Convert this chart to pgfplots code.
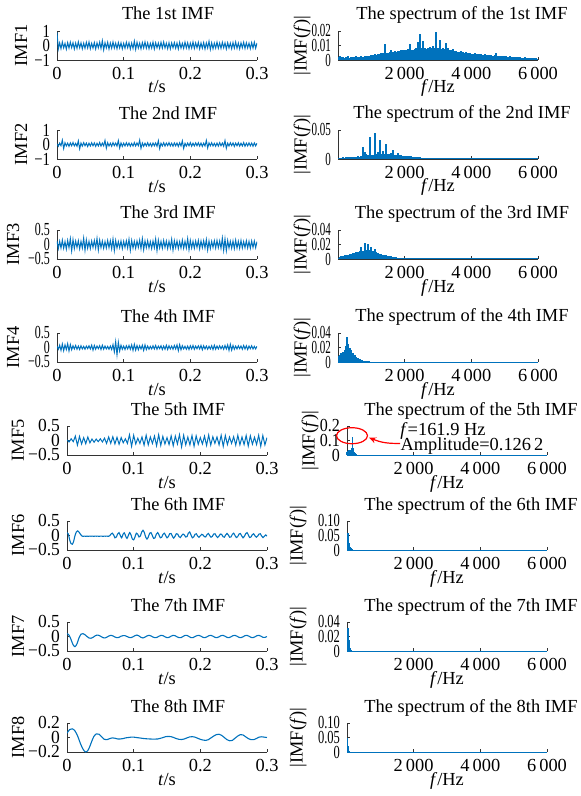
\documentclass[border=0pt]{standalone}
\usepackage{fontspec}
\setmainfont{Liberation Serif}
\usepackage{graphicx}
\usepackage{pgfplots}
\pgfplotsset{compat=1.18}
\usepackage{pgfplotstable}
\usetikzlibrary{arrows.meta}
\definecolor{mb}{RGB}{0,114,189}
\newcommand{\fs}{\fontsize{9.2}{10}\selectfont}
% y tick labels in the reference are squeezed sideways
\newcommand{\sq}[2]{\scalebox{#1}[1]{#2}}

\pgfplotsset{
  panel/.style={scale only axis, width=100pt, height=14.5pt, anchor=south west,
    axis x line*=bottom, axis y line*=left,
    axis line style={-, black!80, line width=0.4pt},
    tick align=inside, major tick length=1.6pt,
    every tick/.style={black!80, line width=0.4pt},
    scaled x ticks=false, scaled y ticks=false,
    tick label style={font=\fs}, label style={font=\fs},
    title style={font=\fs, at={(axis description cs:0.5,1)}, anchor=base, yshift=-0.5pt},
    xlabel style={at={(axis description cs:0.5,0)}, anchor=base, yshift=-16.5pt}},
  ylab/.style={ylabel style={at={(axis description cs:#1,0.5)}, anchor=center}},
  tpanel/.style={panel, xmin=0, xmax=0.3, xtick={0,0.1,0.2,0.3},
    xticklabels={0,0.1,0.2,0.3}, xlabel={\textit{t}/s},
    title style={xshift=5.5pt}},
  fpanel/.style={panel, xmin=0, xmax=6000, ymin=0, xtick={2000,4000,6000},
    xticklabels={2\,000,4\,000,6\,000}, xlabel={\textit{f}/Hz},
    ylabel={|IMF(\textit{f})|}, title style={xshift=12pt}},
  sig/.style={mb, line width=0.5pt},
  sigs/.style={mb, line width=0.55pt, smooth},
  spec/.style={mb, ycomb, line width=0.85pt},
}

% samples evenly spread over [0,span]
\newcommand{\plotsampled}[3]{%
  \pgfplotstablegetrowsof{#2}%
  \pgfmathsetmacro{\nlast}{\pgfplotsretval-1}%
  \addplot[#1] table[x expr=\coordindex*#3/\nlast, y index=0]{#2};}

% ---------- time series ----------
\pgfplotstableread[header=false,row sep=\\]{
0.9\\ -0.24\\ 0.18\\ -0.22\\ 0.24\\ -0.17\\ 0.15\\ -0.26\\ 0.2\\ -0.18\\ 0.23\\ -0.15\\ 0.19\\ -0.24\\ 0.17\\ -0.2\\ 0.25\\ -0.16\\ 0.18\\ -0.23\\
0.16\\ -0.19\\ 0.22\\ -0.17\\ 0.24\\ -0.22\\ 0.15\\ -0.18\\ 0.2\\ -0.24\\ 0.18\\ -0.16\\ 0.23\\ -0.2\\ 0.33\\ -0.3\\ 0.19\\ -0.17\\ 0.22\\ -0.24\\
0.17\\ -0.19\\ 0.24\\ -0.18\\ 0.16\\ -0.22\\ 0.2\\ -0.17\\ 0.18\\ -0.23\\ 0.15\\ -0.19\\ 0.22\\ -0.16\\ 0.19\\ -0.24\\ 0.17\\ -0.2\\ 0.3\\ -0.27\\
0.22\\ -0.18\\ 0.16\\ -0.23\\ 0.2\\ -0.17\\ 0.24\\ -0.19\\ 0.18\\ -0.22\\ 0.15\\ -0.18\\ 0.23\\ -0.24\\ 0.19\\ -0.16\\ 0.17\\ -0.2\\ 0.22\\ -0.18\\
0.24\\ -0.17\\ 0.16\\ -0.22\\ 0.19\\ -0.23\\ 0.18\\ -0.16\\ 0.2\\ -0.19\\ 0.17\\ -0.24\\ 0.22\\ -0.18\\ 0.15\\ -0.2\\ 0.23\\ -0.17\\ 0.19\\ -0.22\\
0.16\\ -0.18\\ 0.24\\ -0.2\\ 0.18\\ -0.16\\ 0.22\\ -0.23\\ 0.17\\ -0.19\\ 0.2\\ -0.24\\ 0.18\\ -0.17\\ 0.29\\ -0.27\\ 0.19\\ -0.22\\ 0.16\\ -0.18\\
0.23\\ -0.19\\ 0.17\\ -0.2\\ 0.22\\ -0.16\\ 0.18\\ -0.24\\ 0.19\\ -0.17\\ 0.16\\ -0.22\\ 0.2\\ -0.18\\ 0.24\\ -0.19\\ 0.17\\ -0.23\\ 0.18\\ -0.16\\
0.22\\ -0.2\\ 0.19\\ -0.17\\ 0.16\\ -0.22\\ 0.2\\ -0.18\\ 0.23\\ -0.19\\ 0.17\\
}\imfA

\pgfplotstableread[header=false,row sep=\\]{
0.05\\ -0.12\\ 0.1\\ -0.08\\ 0.3\\ -0.28\\ 0.12\\ -0.1\\ 0.09\\ -0.13\\ 0.11\\ -0.09\\ 0.14\\ -0.1\\ 0.08\\ -0.12\\ 0.25\\ -0.3\\ 0.1\\ -0.11\\
0.13\\ -0.08\\ 0.1\\ -0.14\\ 0.09\\ -0.1\\ 0.12\\ -0.09\\ 0.11\\ -0.13\\ 0.08\\ -0.1\\ 0.14\\ -0.11\\ 0.1\\ -0.09\\ 0.28\\ -0.25\\ 0.12\\ -0.1\\
0.09\\ -0.12\\ 0.13\\ -0.08\\ 0.1\\ -0.11\\ 0.27\\ -0.24\\ 0.11\\ -0.13\\ 0.09\\ -0.1\\ 0.12\\ -0.09\\ 0.1\\ -0.12\\ 0.08\\ -0.11\\ 0.13\\ -0.1\\
0.11\\ -0.08\\ 0.3\\ -0.26\\ 0.1\\ -0.12\\ 0.09\\ -0.1\\ 0.12\\ -0.11\\ 0.08\\ -0.13\\ 0.1\\ -0.09\\ 0.11\\ -0.12\\ 0.26\\ -0.28\\ 0.09\\ -0.1\\
0.12\\ -0.11\\ 0.1\\ -0.08\\ 0.13\\ -0.1\\ 0.09\\ -0.12\\ 0.11\\ -0.09\\ 0.1\\ -0.13\\ 0.12\\ -0.1\\ 0.25\\ -0.27\\ 0.08\\ -0.11\\ 0.1\\ -0.09\\
0.13\\ -0.12\\ 0.09\\ -0.1\\ 0.11\\ -0.08\\ 0.12\\ -0.11\\ 0.1\\ -0.13\\ 0.09\\ -0.1\\ 0.28\\ -0.24\\ 0.11\\ -0.09\\ 0.12\\ -0.1\\ 0.08\\ -0.12\\
0.1\\ -0.11\\ 0.13\\ -0.09\\ 0.1\\ -0.12\\ 0.27\\ -0.26\\ 0.09\\ -0.1\\ 0.12\\ -0.08\\ 0.11\\ -0.13\\ 0.1\\ -0.09\\ 0.12\\ -0.11\\ 0.08\\ -0.1\\
0.13\\ -0.12\\ 0.09\\ -0.1\\ 0.11\\ -0.09\\ 0.1\\ -0.12\\ 0.11\\ -0.1\\ 0.09\\
}\imfB

\pgfplotstableread[header=false,row sep=\\]{
0.12\\ -0.14\\ 0.11\\ -0.12\\ 0.15\\ -0.13\\ 0.1\\ -0.16\\ 0.14\\ -0.11\\ 0.2\\ -0.22\\ 0.17\\ -0.14\\ 0.12\\ -0.1\\ 0.13\\ -0.15\\ 0.11\\ -0.12\\
0.22\\ -0.2\\ 0.16\\ -0.13\\ 0.11\\ -0.14\\ 0.12\\ -0.1\\ 0.14\\ -0.12\\ 0.21\\ -0.19\\ 0.15\\ -0.11\\ 0.12\\ -0.13\\ 0.1\\ -0.12\\ 0.14\\ -0.11\\
0.13\\ -0.15\\ 0.19\\ -0.21\\ 0.14\\ -0.12\\ 0.1\\ -0.11\\ 0.12\\ -0.14\\ 0.11\\ -0.1\\ 0.13\\ -0.12\\ 0.18\\ -0.2\\ 0.14\\ -0.12\\ 0.11\\ -0.13\\
0.12\\ -0.1\\ 0.15\\ -0.14\\ 0.2\\ -0.18\\ 0.12\\ -0.11\\ 0.13\\ -0.12\\ 0.1\\ -0.14\\ 0.12\\ -0.11\\ 0.19\\ -0.21\\ 0.15\\ -0.12\\ 0.11\\ -0.13\\
0.14\\ -0.1\\ 0.12\\ -0.14\\ 0.11\\ -0.12\\ 0.18\\ -0.19\\ 0.13\\ -0.11\\ 0.12\\ -0.14\\ 0.1\\ -0.12\\ 0.15\\ -0.13\\ 0.11\\ -0.12\\ 0.2\\ -0.18\\
0.14\\ -0.12\\ 0.11\\ -0.13\\ 0.12\\ -0.1\\ 0.14\\ -0.15\\ 0.12\\ -0.11\\ 0.13\\ -0.12\\ 0.17\\ -0.19\\ 0.12\\ -0.14\\ 0.11\\ -0.1\\ 0.13\\ -0.12\\
0.14\\ -0.11\\ 0.12\\ -0.13\\ 0.22\\ -0.2\\ 0.19\\ -0.21\\ 0.14\\ -0.12\\ 0.11\\ -0.13\\ 0.12\\ -0.14\\ 0.15\\ -0.12\\ 0.11\\ -0.13\\ 0.14\\ -0.12\\
0.1\\ -0.11\\ 0.13\\ -0.12\\ 0.11\\ -0.13\\ 0.12\\ -0.1\\ 0.12\\ -0.11\\ 0.1\\
}\imfC

\pgfplotstableread[header=false,row sep=\\]{
0.05\\ -0.06\\ 0.08\\ -0.1\\ 0.12\\ -0.11\\ 0.09\\ -0.07\\ 0.13\\ -0.12\\ 0.1\\ -0.08\\ 0.06\\ -0.05\\ 0.07\\ -0.06\\ 0.05\\ -0.07\\ 0.06\\ -0.05\\
0.04\\ -0.06\\ 0.05\\ -0.04\\ 0.06\\ -0.05\\ 0.08\\ -0.09\\ 0.07\\ -0.06\\ 0.05\\ -0.04\\ 0.06\\ -0.07\\ 0.08\\ -0.06\\ 0.05\\ -0.05\\ 0.04\\ -0.06\\
0.05\\ -0.07\\ 0.1\\ -0.15\\ 0.2\\ -0.25\\ 0.18\\ -0.12\\ 0.08\\ -0.06\\ 0.05\\ -0.07\\ 0.06\\ -0.05\\ 0.07\\ -0.06\\ 0.09\\ -0.1\\ 0.11\\ -0.09\\
0.07\\ -0.08\\ 0.06\\ -0.05\\ 0.08\\ -0.1\\ 0.09\\ -0.07\\ 0.05\\ -0.06\\ 0.04\\ -0.05\\ 0.06\\ -0.05\\ 0.07\\ -0.06\\ 0.05\\ -0.04\\ 0.06\\ -0.07\\
0.05\\ -0.06\\ 0.08\\ -0.07\\ 0.06\\ -0.05\\ 0.05\\ -0.06\\ 0.07\\ -0.05\\ 0.09\\ -0.11\\ 0.1\\ -0.08\\ 0.06\\ -0.05\\ 0.04\\ -0.06\\ 0.05\\ -0.07\\
0.06\\ -0.05\\ 0.07\\ -0.06\\ 0.05\\ -0.04\\ 0.06\\ -0.05\\ 0.07\\ -0.08\\ 0.06\\ -0.05\\ 0.05\\ -0.06\\ 0.04\\ -0.05\\ 0.06\\ -0.07\\ 0.08\\ -0.06\\
0.05\\ -0.05\\ 0.06\\ -0.04\\ 0.05\\ -0.06\\ 0.07\\ -0.05\\ 0.09\\ -0.1\\ 0.11\\ -0.09\\ 0.07\\ -0.06\\ 0.05\\ -0.05\\ 0.06\\ -0.04\\ 0.05\\ -0.06\\
0.07\\ -0.05\\ 0.06\\ -0.07\\ 0.05\\ -0.04\\ 0.06\\ -0.05\\ 0.04\\ -0.05\\ 0.04\\
}\imfD

\pgfplotstableread[header=false,row sep=\\]{
0.02\\ -0.05\\ 0.06\\ -0.04\\ 0.15\\ -0.16\\ 0.14\\ -0.12\\ 0.1\\ -0.11\\ 0.12\\ -0.08\\ 0.05\\ -0.06\\ 0.05\\ -0.04\\ 0.06\\ -0.05\\ 0.08\\ -0.1\\
0.12\\ -0.1\\ 0.13\\ -0.12\\ 0.11\\ -0.13\\ 0.1\\ -0.08\\ 0.06\\ -0.1\\ 0.2\\ -0.2\\ 0.18\\ -0.12\\ 0.08\\ -0.1\\ 0.12\\ -0.16\\ 0.18\\ -0.15\\
0.12\\ -0.1\\ 0.15\\ -0.18\\ 0.2\\ -0.17\\ 0.14\\ -0.12\\ 0.1\\ -0.14\\ 0.16\\ -0.18\\ 0.15\\ -0.12\\ 0.2\\ -0.22\\ 0.18\\ -0.15\\ 0.12\\ -0.15\\
0.17\\ -0.2\\ 0.16\\ -0.13\\ 0.1\\ -0.12\\ 0.15\\ -0.17\\ 0.19\\ -0.16\\ 0.13\\ -0.1\\ 0.12\\ -0.15\\ 0.18\\ -0.2\\ 0.17\\ -0.14\\ 0.12\\ -0.1\\
0.13\\ -0.16\\ 0.18\\ -0.15\\ 0.12\\ -0.14\\ 0.17\\ -0.19\\ 0.16\\ -0.13\\ 0.11\\ -0.14\\ 0.18\\ -0.2\\ 0.17\\ -0.15\\ 0.1\\
}\imfE

\pgfplotstableread[header=false,row sep=\\]{
0.1\\ 0.05\\ -0.15\\ -0.28\\ -0.3\\ -0.2\\ 0.0\\ 0.12\\ 0.16\\ 0.12\\ 0.05\\ -0.01\\ -0.03\\ -0.02\\
-0.03\\ -0.02\\ -0.03\\ -0.02\\ -0.025\\ -0.02\\ -0.03\\ -0.02\\ -0.025\\ -0.02\\ -0.03\\ -0.02\\ -0.02\\ -0.03\\ -0.02\\ -0.025\\ -0.02\\ -0.03\\ -0.01\\
0.05\\ 0.08\\ 0.02\\ -0.08\\ -0.05\\ 0.05\\ 0.1\\ 0.0\\ -0.08\\ 0.04\\ 0.09\\ -0.02\\ -0.1\\ 0.0\\ 0.1\\ 0.02\\ -0.12\\ -0.15\\ -0.05\\ 0.08\\
0.05\\ -0.05\\ -0.02\\ 0.12\\ 0.18\\ 0.1\\ -0.05\\ -0.12\\ -0.05\\ 0.08\\ 0.1\\ 0.0\\ -0.1\\ -0.08\\ 0.05\\ 0.1\\ 0.02\\
-0.08\\ -0.06\\ 0.04\\ 0.08\\ 0.0\\ -0.08\\ -0.04\\ 0.06\\ 0.07\\ -0.02\\ -0.09\\ -0.03\\ 0.06\\ 0.05\\ -0.04\\ -0.07\\ 0.0\\ 0.05\\ 0.02\\ -0.05\\
-0.04\\ 0.08\\ 0.12\\ 0.02\\ -0.08\\ -0.05\\ 0.04\\ 0.06\\ -0.02\\ -0.06\\ -0.01\\ 0.04\\ 0.02\\ -0.04\\ -0.05\\ 0.03\\ 0.07\\ 0.0\\ -0.06\\ -0.03\\
0.05\\ 0.06\\ -0.02\\ -0.07\\ -0.02\\ 0.05\\ 0.04\\ -0.04\\ -0.06\\ 0.02\\ 0.07\\ 0.02\\ -0.06\\ -0.05\\ 0.04\\ 0.08\\ 0.0\\ -0.07\\ -0.04\\ 0.05\\
0.07\\ -0.01\\ -0.08\\ -0.03\\ 0.06\\ 0.1\\ 0.02\\ -0.07\\ -0.05\\ 0.03\\ 0.06\\ -0.01\\ -0.06\\ -0.02\\ 0.05\\ 0.06\\ -0.02\\ -0.07\\ -0.03\\ 0.02\\ -0.02\\
}\imfF

\pgfplotstableread[header=false,row sep=\\]{
0.1\\ 0.05\\ -0.1\\ -0.28\\ -0.35\\ -0.25\\ -0.05\\ 0.08\\ 0.1\\ 0.06\\ 0.0\\ -0.05\\ -0.06\\ -0.03\\ 0.02\\ 0.05\\ 0.04\\ 0.0\\ -0.04\\ -0.05\\
-0.02\\ 0.02\\ 0.04\\ 0.02\\ -0.02\\ -0.04\\ -0.03\\ 0.01\\ 0.03\\ 0.03\\ 0.0\\ -0.03\\ -0.04\\ -0.01\\ 0.03\\ 0.05\\ 0.02\\ -0.03\\ -0.05\\ -0.02\\
0.02\\ 0.04\\ 0.02\\ -0.02\\ -0.04\\ -0.03\\ 0.01\\ 0.04\\ 0.03\\ -0.01\\ -0.04\\ -0.03\\ 0.01\\ 0.04\\ 0.03\\ -0.01\\ -0.04\\ -0.04\\ 0.0\\ 0.04\\
0.04\\ 0.0\\ -0.04\\ -0.04\\ 0.0\\ 0.03\\ 0.04\\ 0.01\\ -0.03\\ -0.04\\ -0.01\\ 0.03\\ 0.04\\ 0.01\\ -0.03\\ -0.04\\ -0.01\\ 0.03\\ 0.04\\ 0.01\\
-0.03\\ -0.04\\ -0.01\\ 0.03\\ 0.04\\ 0.01\\ -0.03\\ -0.04\\ -0.01\\ 0.03\\ 0.04\\ 0.01\\ -0.03\\ -0.04\\ -0.01\\ 0.03\\ 0.04\\ 0.01\\ -0.03\\ -0.03\\ 0.0\\
}\imfG

\pgfplotstableread[header=false,row sep=\\]{
0.06\\ 0.11\\ 0.12\\ 0.09\\ 0.02\\ -0.08\\ -0.16\\ -0.2\\ -0.17\\ -0.08\\ 0.01\\ 0.05\\ 0.045\\ 0.01\\ -0.025\\ -0.03\\ -0.015\\ -0.005\\ -0.01\\ -0.02\\
-0.02\\ -0.015\\ -0.005\\ 0.0\\ 0.005\\ 0.005\\ 0.0\\ -0.005\\ -0.01\\ -0.015\\ -0.018\\ -0.02\\ -0.022\\ -0.022\\ -0.02\\ -0.012\\ 0.0\\ 0.012\\ 0.015\\ 0.012\\
0.0\\ -0.015\\ -0.025\\ -0.028\\ -0.02\\ -0.005\\ 0.008\\ 0.012\\ 0.005\\ -0.01\\ -0.025\\ -0.035\\ -0.04\\ -0.03\\ -0.005\\ 0.02\\ 0.04\\ 0.045\\ 0.03\\ 0.0\\
-0.03\\ -0.045\\ -0.04\\ -0.01\\ 0.02\\ 0.04\\ 0.035\\ 0.01\\ -0.015\\ -0.03\\ -0.03\\ -0.015\\ 0.005\\ 0.01\\ 0.005\\ 0.0\\
}\imfH

% ---------- spectra ----------
\pgfplotstableread[header=false,row sep=\\]{
0.002\\ 0.0025\\ 0.0018\\ 0.0022\\ 0.0015\\ 0.002\\ 0.0028\\ 0.0017\\ 0.0021\\ 0.0024\\ 0.0019\\ 0.0026\\ 0.002\\ 0.0023\\ 0.0029\\ 0.0022\\ 0.0027\\ 0.0031\\ 0.0025\\ 0.003\\ 0.0034\\
0.0032\\ 0.0038\\ 0.0035\\ 0.0042\\ 0.004\\ 0.0045\\ 0.0048\\ 0.011\\ 0.0046\\ 0.005\\
0.0052\\ 0.0068\\ 0.0055\\ 0.006\\ 0.0058\\ 0.0065\\ 0.0062\\ 0.007\\ 0.0066\\ 0.0072\\
0.0068\\ 0.0075\\ 0.011\\ 0.007\\ 0.0072\\ 0.0078\\ 0.0082\\ 0.0125\\ 0.018\\ 0.0085\\
0.013\\ 0.008\\ 0.0078\\ 0.0085\\ 0.0088\\ 0.008\\ 0.0095\\ 0.0082\\ 0.019\\ 0.0086\\
0.014\\ 0.0078\\ 0.0082\\ 0.0075\\ 0.0115\\ 0.008\\ 0.0072\\ 0.0068\\ 0.0075\\ 0.0065\\
0.0062\\ 0.0058\\ 0.0055\\ 0.006\\ 0.0052\\ 0.005\\ 0.0052\\ 0.0048\\ 0.0045\\ 0.0044\\
0.0042\\ 0.0046\\ 0.004\\ 0.0042\\ 0.0038\\ 0.004\\ 0.0036\\ 0.0038\\ 0.0034\\ 0.0036\\
0.0033\\ 0.0035\\ 0.0031\\ 0.0032\\ 0.0045\\ 0.003\\ 0.0028\\ 0.003\\ 0.0026\\ 0.0028\\
0.0025\\ 0.0023\\ 0.0026\\ 0.0022\\ 0.002\\ 0.0023\\ 0.0019\\ 0.0018\\ 0.002\\ 0.0017\\
0.0016\\ 0.0018\\ 0.0015\\ 0.0014\\ 0.0016\\ 0.0013\\ 0.0012\\ 0.0014\\ 0.0011\\ 0.001\\
}\specA

\pgfplotstableread[header=false,row sep=\\]{
0.002\\ 0.0025\\ 0.002\\ 0.0028\\ 0.0022\\ 0.003\\ 0.0026\\ 0.0032\\ 0.0035\\ 0.003\\ 0.0038\\
0.004\\ 0.0045\\ 0.0042\\ 0.005\\ 0.02\\ 0.012\\ 0.008\\ 0.0065\\ 0.038\\ 0.007\\
0.0075\\ 0.045\\ 0.008\\ 0.012\\ 0.032\\ 0.009\\ 0.014\\ 0.008\\ 0.025\\ 0.0085\\
0.008\\ 0.011\\ 0.015\\ 0.0075\\ 0.007\\ 0.0095\\ 0.0068\\ 0.0065\\ 0.006\\ 0.0058\\
0.0055\\ 0.005\\ 0.0048\\ 0.0045\\ 0.004\\ 0.0038\\ 0.0035\\ 0.003\\ 0.0028\\ 0.0025\\
0.0022\\ 0.002\\ 0.0018\\ 0.0016\\ 0.0014\\ 0.0012\\ 0.001\\ 0.0009\\ 0.0008\\ 0.0007\\
}\specB

\pgfplotstableread[header=false,row sep=\\]{
0.002\\ 0.003\\ 0.0035\\ 0.004\\ 0.005\\ 0.0055\\ 0.006\\ 0.0065\\ 0.007\\ 0.008\\ 0.0085\\ 0.009\\ 0.01\\ 0.011\\ 0.016\\
0.011\\ 0.022\\ 0.012\\ 0.021\\ 0.013\\ 0.016\\ 0.011\\ 0.014\\ 0.009\\ 0.008\\ 0.0075\\ 0.007\\ 0.006\\ 0.0055\\ 0.005\\
0.0045\\ 0.004\\ 0.0035\\ 0.003\\ 0.0028\\ 0.0025\\ 0.002\\ 0.0018\\ 0.0015\\ 0.0012\\ 0.001\\ 0.0012\\ 0.0008\\ 0.0006\\ 0.0005\\
}\specC

\pgfplotstableread[header=false,row sep=\\]{
0.006\\ 0.008\\ 0.01\\ 0.009\\ 0.012\\ 0.011\\ 0.014\\ 0.013\\ 0.016\\ 0.015\\ 0.022\\ 0.035\\ 0.025\\ 0.018\\ 0.02\\ 0.015\\ 0.017\\ 0.012\\ 0.013\\ 0.01\\
0.009\\ 0.008\\ 0.007\\ 0.006\\ 0.005\\ 0.0045\\ 0.004\\ 0.0035\\ 0.003\\ 0.0025\\ 0.002\\ 0.0018\\ 0.0015\\ 0.0012\\ 0.001\\ 0.0009\\ 0.0008\\ 0.0007\\ 0.0006\\ 0.0005\\ 0.0004\\
}\specD

\begin{document}
\begin{tikzpicture}
\useasboundingbox (0,0) rectangle (290pt,-398pt);

% ===== row 1 =====
\begin{axis}[tpanel, ylab=-0.18, at={(28.5pt,-30pt)}, ymin=-1, ymax=1, ytick={-1,0,1},
  yticklabels={\sq{0.8}{−1},\sq{0.8}{0},\sq{0.8}{1}}, ylabel={IMF1}, title={The 1st IMF}]
\plotsampled{sig}{\imfA}{0.3}
\end{axis}
\begin{axis}[fpanel, ylab=-0.18, at={(169pt,-30pt)}, ymax=0.02, ytick={0,0.01,0.02},
  yticklabels={\sq{0.6}{0},\sq{0.6}{0.01},\sq{0.6}{0.02}}, title={The spectrum of the 1st IMF}]
\plotsampled{spec}{\specA}{6000}
\addplot[sig] coordinates {(0,0) (6000,0)};
\end{axis}

% ===== row 2 =====
\begin{axis}[tpanel, ylab=-0.18, at={(28.5pt,-79.5pt)}, ymin=-1, ymax=1, ytick={-1,0,1},
  yticklabels={\sq{0.8}{−1},\sq{0.8}{0},\sq{0.8}{1}}, ylabel={IMF2}, title={The 2nd IMF}]
\plotsampled{sig}{\imfB}{0.3}
\end{axis}
\begin{axis}[fpanel, ylab=-0.18, at={(169pt,-79.5pt)}, ymax=0.05, ytick={0,0.05},
  yticklabels={\sq{0.6}{0},\sq{0.6}{0.05}}, title={The spectrum of the 2nd IMF}]
\plotsampled{spec}{\specB}{3000}
\addplot[sig] coordinates {(0,0) (6000,0)};
\end{axis}

% ===== row 3 =====
\begin{axis}[tpanel, ylab=-0.22, at={(28.5pt,-129.5pt)}, ymin=-0.5, ymax=0.5, ytick={-0.5,0,0.5},
  yticklabels={\sq{0.65}{−0.5},\sq{0.65}{0},\sq{0.65}{0.5}}, ylabel={IMF3}, title={The 3rd IMF}]
\plotsampled{sig}{\imfC}{0.3}
\end{axis}
\begin{axis}[fpanel, ylab=-0.18, at={(169pt,-129.5pt)}, ymax=0.04, ytick={0,0.02,0.04},
  yticklabels={\sq{0.6}{0},\sq{0.6}{0.02},\sq{0.6}{0.04}}, title={The spectrum of the 3rd IMF}]
\plotsampled{spec}{\specC}{2200}
\addplot[sig] coordinates {(0,0) (6000,0)};
\end{axis}

% ===== row 4 =====
\begin{axis}[tpanel, ylab=-0.22, at={(28.5pt,-181pt)}, ymin=-0.5, ymax=0.5, ytick={-0.5,0,0.5},
  yticklabels={\sq{0.65}{−0.5},\sq{0.65}{0},\sq{0.65}{0.5}}, ylabel={IMF4}, title={The 4th IMF}]
\plotsampled{sig}{\imfD}{0.3}
\end{axis}
\begin{axis}[fpanel, ylab=-0.18, at={(169pt,-181pt)}, ymax=0.04, ytick={0,0.02,0.04},
  yticklabels={\sq{0.6}{0},\sq{0.6}{0.02},\sq{0.6}{0.04}}, title={The spectrum of the 4th IMF}]
\plotsampled{spec}{\specD}{1000}
\addplot[sig] coordinates {(0,0) (6000,0)};
\end{axis}

% ===== row 5 =====
\begin{axis}[tpanel, ylab=-0.245, at={(33.5pt,-227.5pt)}, ymin=-0.5, ymax=0.5, ytick={-0.5,0,0.5},
  yticklabels={\sq{0.95}{−0.5},\sq{0.95}{0},\sq{0.95}{0.5}}, ylabel={IMF5}, title={The 5th IMF}]
\plotsampled{sig}{\imfE}{0.3}
\end{axis}
\begin{axis}[fpanel, ylab=-0.185, at={(173.5pt,-227.5pt)}, ymax=0.2, ytick={0,0.1,0.2},
  yticklabels={\sq{0.87}{0},\sq{0.87}{0.1},\sq{0.87}{0.2}}, title={The spectrum of the 5th IMF}, clip=false]
\addplot[spec] coordinates {(0,0.01) (10,0.02) (20,0.025) (30,0.03) (40,0.022)
  (50,0.035) (60,0.02) (70,0.028) (80,0.018) (90,0.025) (100,0.02) (110,0.03)
  (120,0.025) (130,0.035) (140,0.04) (150,0.05) (161.9,0.1262) (170,0.045)
  (180,0.03) (190,0.025) (200,0.02) (210,0.018) (220,0.015) (230,0.012)
  (240,0.01) (250,0.008) (260,0.006) (280,0.004) (300,0.003) (350,0.002) (400,0.001)};
\addplot[sig] coordinates {(0,0) (6000,0)};
\draw[red, line width=0.6pt] (axis cs:150,0.133) ellipse [x radius=7.75pt, y radius=4pt];
\draw[red, line width=0.6pt, -{Stealth[length=3.5pt, width=3pt]}]
  (axis cs:1590,0.08) to[bend left=12] (axis cs:660,0.12);
\node[font=\fs, inner sep=0pt] at (axis cs:2880,0.167) {\textit{f}=161.9 Hz};
\node[font=\fs, inner sep=0pt] at (axis cs:3750,0.06) {Amplitude=0.126\,2};
\end{axis}

% ===== row 6 =====
\begin{axis}[tpanel, ylab=-0.245, at={(33.5pt,-275pt)}, ymin=-0.5, ymax=0.5, ytick={-0.5,0,0.5},
  yticklabels={\sq{0.95}{−0.5},\sq{0.95}{0},\sq{0.95}{0.5}}, ylabel={IMF6}, title={The 6th IMF}]
\plotsampled{sigs}{\imfF}{0.3}
\end{axis}
\begin{axis}[fpanel, ylab=-0.245, at={(173.5pt,-275pt)}, ymax=0.1, ytick={0,0.05,0.1},
  yticklabels={\sq{0.68}{0},\sq{0.68}{0.05},\sq{0.68}{0.10}}, title={The spectrum of the 6th IMF}]
\addplot[spec] coordinates {(0,0.02) (5,0.03) (10,0.035) (15,0.04) (20,0.05)
  (25,0.045) (30,0.06) (35,0.04) (40,0.035) (45,0.03) (50,0.025) (60,0.02)
  (70,0.015) (80,0.012) (90,0.01) (100,0.008) (110,0.006) (120,0.005)
  (130,0.004) (140,0.003) (150,0.002) (200,0.001)};
\addplot[sig] coordinates {(0,0) (6000,0)};
\end{axis}

% ===== row 7 =====
\begin{axis}[tpanel, ylab=-0.245, at={(33.5pt,-325.5pt)}, ymin=-0.5, ymax=0.5, ytick={-0.5,0,0.5},
  yticklabels={\sq{0.95}{−0.5},\sq{0.95}{0},\sq{0.95}{0.5}}, ylabel={IMF7}, title={The 7th IMF}]
\plotsampled{sigs}{\imfG}{0.3}
\end{axis}
\begin{axis}[fpanel, ylab=-0.245, at={(173.5pt,-325.5pt)}, ymax=0.04, ytick={0,0.02,0.04},
  yticklabels={\sq{0.68}{0},\sq{0.68}{0.02},\sq{0.68}{0.04}}, title={The spectrum of the 7th IMF}]
\addplot[spec] coordinates {(0,0.01) (10,0.02) (20,0.025) (30,0.032) (40,0.02)
  (50,0.015) (60,0.01) (70,0.006) (80,0.004) (100,0.002) (120,0.001)};
\addplot[sig] coordinates {(0,0) (6000,0)};
\end{axis}

% ===== row 8 =====
\begin{axis}[tpanel, ylab=-0.245, at={(33.5pt,-376pt)}, ymin=-0.2, ymax=0.2, ytick={-0.2,0,0.2},
  yticklabels={\sq{0.95}{−0.2},\sq{0.95}{0},\sq{0.95}{0.2}}, ylabel={IMF8}, title={The 8th IMF}]
\plotsampled{sigs}{\imfH}{0.3}
\end{axis}
\begin{axis}[fpanel, ylab=-0.245, at={(173.5pt,-376pt)}, ymax=0.1, ytick={0,0.05,0.1},
  yticklabels={\sq{0.68}{0},\sq{0.68}{0.05},\sq{0.68}{0.10}}, title={The spectrum of the 8th IMF}]
\addplot[spec] coordinates {(0,0.02) (5,0.045) (10,0.05) (15,0.03) (20,0.02)
  (30,0.01) (40,0.005) (60,0.002) (80,0.001)};
\addplot[sig] coordinates {(0,0) (6000,0)};
\end{axis}
\end{tikzpicture}
\end{document}
